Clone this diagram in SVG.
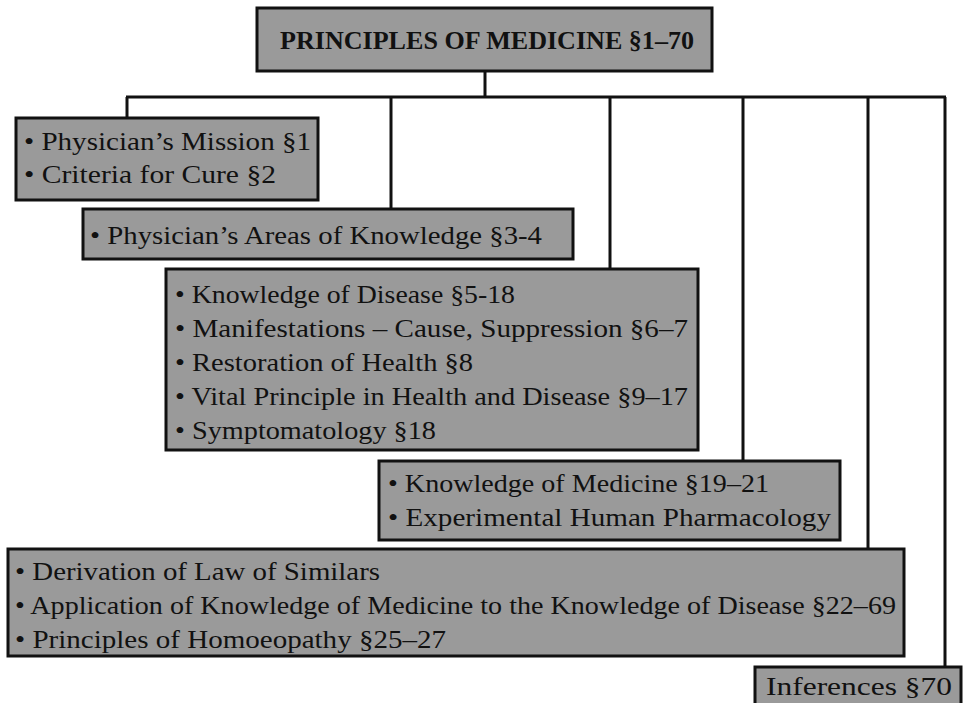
<svg xmlns="http://www.w3.org/2000/svg" width="967" height="703" viewBox="0 0 967 703">
<style>
.box{fill:#9a9a9a;stroke:#111;stroke-width:3}
.t{font-family:"Liberation Serif","Times New Roman",serif;font-size:25px;fill:#111}
.title{font-family:"Liberation Serif","Times New Roman",serif;font-size:25px;font-weight:bold;fill:#111}
.c{fill:none;stroke:#111;stroke-width:3}
</style>
<rect width="967" height="703" fill="#fff"/>
<g id="connectors">
<line class="c" x1="485" y1="71" x2="485" y2="97"/>
<line class="c" x1="126" y1="97" x2="946" y2="97"/>
<line class="c" x1="127" y1="97" x2="127" y2="118"/>
<line class="c" x1="391" y1="97" x2="391" y2="209"/>
<line class="c" x1="610" y1="97" x2="610" y2="269"/>
<line class="c" x1="743" y1="97" x2="743" y2="461"/>
<line class="c" x1="868" y1="97" x2="868" y2="549"/>
<line class="c" x1="945" y1="97" x2="945" y2="667"/>
</g>
<g id="root">
<rect class="box" x="257" y="8" width="455" height="63"/>
<text class="title" x="280" y="49" textLength="414" lengthAdjust="spacingAndGlyphs">PRINCIPLES OF MEDICINE §1–70</text>
</g>
<g id="n1">
<rect class="box" x="16" y="118" width="302" height="82"/>
<text class="t" x="24" y="150" textLength="287" lengthAdjust="spacingAndGlyphs">• Physician’s Mission §1</text>
<text class="t" x="24" y="183" textLength="252" lengthAdjust="spacingAndGlyphs">• Criteria for Cure §2</text>
</g>
<g id="n2">
<rect class="box" x="83" y="209" width="490" height="50"/>
<text class="t" x="90" y="244" textLength="452" lengthAdjust="spacingAndGlyphs">• Physician’s Areas of Knowledge §3-4</text>
</g>
<g id="n3">
<rect class="box" x="166" y="269" width="532" height="181"/>
<text class="t" x="175" y="303" textLength="340" lengthAdjust="spacingAndGlyphs">• Knowledge of Disease §5-18</text>
<text class="t" x="175" y="337" textLength="513" lengthAdjust="spacingAndGlyphs">• Manifestations – Cause, Suppression §6–7</text>
<text class="t" x="175" y="371" textLength="298" lengthAdjust="spacingAndGlyphs">• Restoration of Health §8</text>
<text class="t" x="175" y="405" textLength="513" lengthAdjust="spacingAndGlyphs">• Vital Principle in Health and Disease §9–17</text>
<text class="t" x="175" y="439" textLength="261" lengthAdjust="spacingAndGlyphs">• Symptomatology §18</text>
</g>
<g id="n4">
<rect class="box" x="379" y="461" width="461" height="79"/>
<text class="t" x="388" y="492" textLength="381" lengthAdjust="spacingAndGlyphs">• Knowledge of Medicine §19–21</text>
<text class="t" x="388" y="526" textLength="443" lengthAdjust="spacingAndGlyphs">• Experimental Human Pharmacology</text>
</g>
<g id="n5">
<rect class="box" x="8" y="549" width="896" height="107"/>
<text class="t" x="15" y="580" textLength="365" lengthAdjust="spacingAndGlyphs">• Derivation of Law of Similars</text>
<text class="t" x="15" y="614" textLength="881" lengthAdjust="spacingAndGlyphs">• Application of Knowledge of Medicine to the Knowledge of Disease §22–69</text>
<text class="t" x="15" y="648" textLength="431" lengthAdjust="spacingAndGlyphs">• Principles of Homoeopathy §25–27</text>
</g>
<g id="n6">
<rect class="box" x="755" y="667" width="206" height="45"/>
<text class="t" x="766" y="695" textLength="186" lengthAdjust="spacingAndGlyphs">Inferences §70</text>
</g>
</svg>
